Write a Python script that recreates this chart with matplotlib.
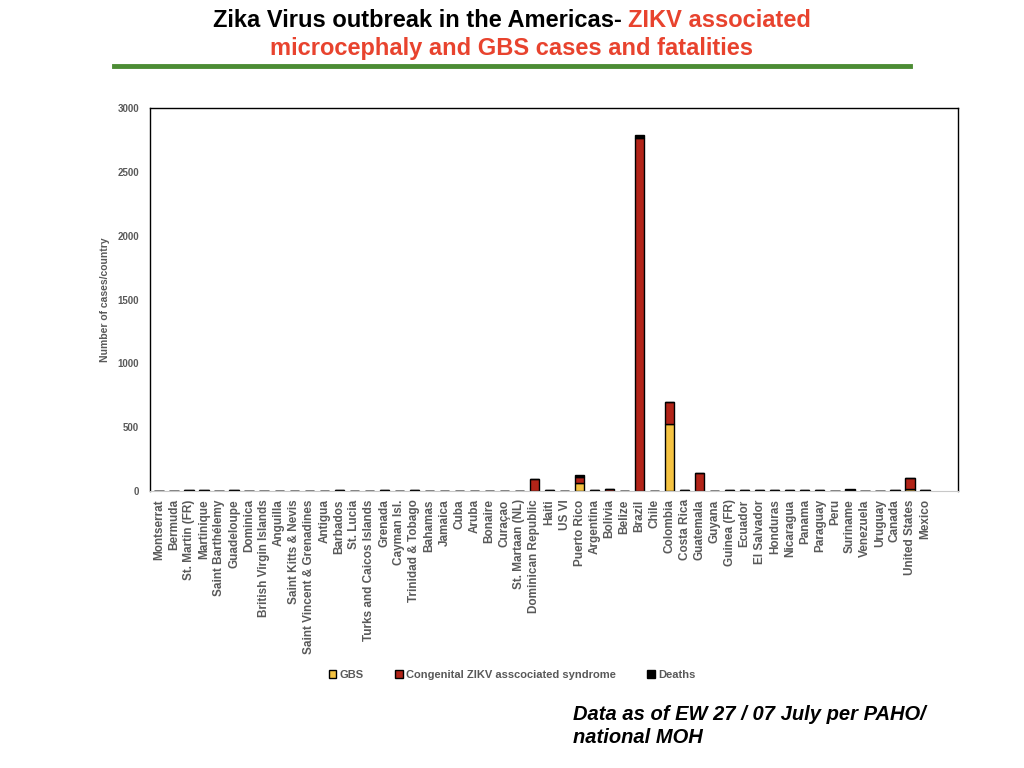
import matplotlib
matplotlib.use("Agg")
import matplotlib.pyplot as plt
import matplotlib.lines as mlines
import numpy as np

countries = [
    "Montserrat", "Bermuda", "St. Martin (FR)", "Martinique", "Saint Barthélemy",
    "Guadeloupe", "Dominica", "British Virgin Islands", "Anguilla",
    "Saint Kitts & Nevis", "Saint Vincent & Grenadines", "Antigua", "Barbados",
    "St. Lucia", "Turks and Caicos Islands", "Grenada", "Cayman Isl.",
    "Trinidad & Tobago", "Bahamas", "Jamaica", "Cuba", "Aruba", "Bonaire",
    "Curaçao", "St. Martaan (NL)", "Dominican Republic", "Haiti", "US VI",
    "Puerto Rico", "Argentina", "Bolivia", "Belize", "Brazil", "Chile",
    "Colombia", "Costa Rica", "Guatemala", "Guyana", "Guinea (FR)", "Ecuador",
    "El Salvador", "Honduras", "Nicaragua", "Panama", "Paraguay", "Peru",
    "Suriname", "Venezuela", "Uruguay", "Canada", "United States", "Mexico",
]

gbs = [0, 0, 0, 0, 0, 0, 0, 0, 0, 0, 0, 0, 0, 0, 0, 0, 0, 0, 0, 0, 0, 0, 0, 0,
       0, 0, 0, 0, 62, 0, 0, 0, 0, 0, 522, 0, 0, 0, 0, 0, 0, 0, 0, 0, 0, 0,
       0, 0, 0, 0, 14, 0]
congenital = [0, 0, 6, 6, 0, 6, 0, 0, 0, 0, 0, 0, 6, 0, 0, 6, 0, 6, 0, 0, 0, 0,
              0, 0, 0, 94, 6, 0, 48, 6, 14, 0, 2765, 0, 178, 6, 143, 0, 6, 6,
              6, 6, 6, 6, 6, 0, 6, 0, 0, 6, 88, 6]
deaths = [0, 0, 0, 0, 0, 0, 0, 0, 0, 0, 0, 0, 0, 0, 0, 0, 0, 0, 0, 0, 0, 0,
          0, 0, 0, 0, 0, 0, 12, 0, 0, 0, 22, 0, 0, 0, 0, 0, 0, 0, 0, 0, 0, 0,
          0, 0, 8, 0, 0, 0, 0, 0]

yellow = "#F5C342"
red = "#B22418"
grey = "#595959"

plt.rcParams['font.family'] = ['Liberation Sans', 'DejaVu Sans']

fig = plt.figure(figsize=(10.24, 7.68), dpi=100)
ax = fig.add_axes([150 / 1024, 1 - 491 / 768, 808 / 1024, 383 / 768])

x = np.arange(len(countries))
gbs = np.array(gbs)
congenital = np.array(congenital)
deaths = np.array(deaths)

w = 0.62
ax.bar(x, gbs, w, color=yellow, edgecolor="black", linewidth=1, label="GBS")
ax.bar(x, congenital, w, bottom=gbs, color=red, edgecolor="black", linewidth=1,
       label="Congenital ZIKV asscociated syndrome")
ax.bar(x, deaths, w, bottom=gbs + congenital, color="black", edgecolor="black",
       linewidth=1, label="Deaths")

ax.set_xlim(-0.6, len(countries) - 1 + 2.2)
ax.set_ylim(0, 3000)
ax.set_yticks(range(0, 3001, 500))
ax.set_xticks(x)
ax.set_xticklabels(countries, rotation=90, fontsize=8.5, fontweight="bold", color=grey)
for lab in ax.get_yticklabels():
    lab.set_fontsize(7)
    lab.set_fontweight("bold")
    lab.set_color(grey)
ax.tick_params(axis="both", length=0, pad=8)
ax.tick_params(axis="x", pad=6)
ax.spines["bottom"].set_color("#c8c8c8")
for s in ["left", "top", "right"]:
    ax.spines[s].set_linewidth(1)
ax.set_ylabel("Number of cases/country", fontsize=7.5, fontweight="bold", color=grey,
              labelpad=5)

leg = fig.legend(loc="center", bbox_to_anchor=(0.5, 1 - 675 / 768), ncol=3,
                 frameon=False, handlelength=0.7, handleheight=0.7,
                 handletextpad=0.3, columnspacing=2.8,
                 prop={"size": 8, "weight": "bold"})
for t in leg.get_texts():
    t.set_color(grey)

# title: black and red parts on first line
title_font = dict(fontsize=17, fontweight="bold", family=["Liberation Sans Narrow", "Liberation Sans"])
fig.canvas.draw()
r = fig.canvas.get_renderer()
t1 = fig.text(0, 0, "Zika Virus outbreak in the Americas- ", color="black", **title_font)
t2 = fig.text(0, 0, "ZIKV associated", color="#E8432E", **title_font)
w1 = t1.get_window_extent(r).width
w2 = t2.get_window_extent(r).width
start = (1024 - (w1 + w2)) / 2
t1.set_position((start / 1024, 1 - 27 / 768))
t2.set_position(((start + w1) / 1024, 1 - 27 / 768))
fig.text(0.5, 1 - 55 / 768, "microcephaly and GBS cases and fatalities", ha="center",
         color="#E8432E", **title_font)

fig.add_artist(mlines.Line2D([114 / 1024, 910 / 1024], [1 - 66 / 768, 1 - 66 / 768],
                             color="#4C8C34", linewidth=3.5))

fig.text(573 / 1024, 1 - 720 / 768, "Data as of EW 27 / 07 July per PAHO/",
         fontsize=14.5, fontweight="bold", style="italic", color="black")
fig.text(573 / 1024, 1 - 743 / 768, "national MOH",
         fontsize=14.5, fontweight="bold", style="italic", color="black")

fig.savefig("out.png", dpi=100)
